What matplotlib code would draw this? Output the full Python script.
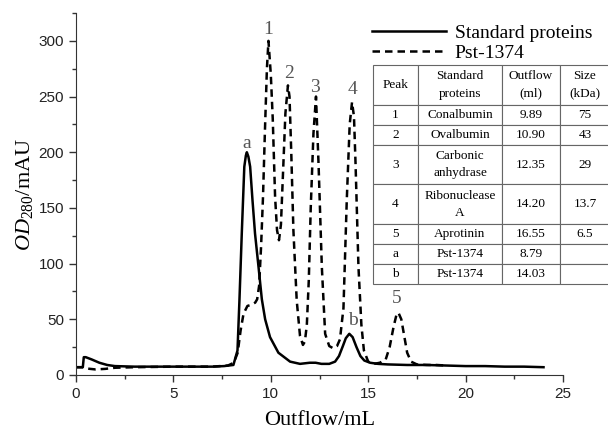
import matplotlib
matplotlib.use('Agg')
import matplotlib.pyplot as plt
from matplotlib.ticker import MultipleLocator

# solid trace (peaks a, b)
solid_x = [0, 0.35, 0.4, 0.5, 0.8, 1.2, 1.6, 2.0, 3, 4, 5, 6, 7, 7.6, 8.08, 8.29, 8.39,
           8.51, 8.64, 8.72, 8.77, 8.85, 8.94, 9.06, 9.19, 9.37, 9.54, 9.71, 9.96, 10.39,
           10.99, 11.5, 12.0, 12.3, 12.6, 13.0, 13.3, 13.5, 13.7, 13.85, 14.03, 14.2, 14.4,
           14.6, 14.8, 15.1, 15.5, 16, 17, 18, 19, 20, 21, 22, 23, 24]
solid_y = [7, 7, 16, 16, 14, 11, 9, 8, 7.5, 7.5, 7.5, 7.5, 7.5, 8, 9, 22, 67,
           127, 187, 197, 200, 196, 187, 157, 127, 97, 68, 50, 34, 20,
           12, 10, 11, 11, 10, 10, 12, 17, 26, 33, 37, 34, 25,
           17, 13, 11, 10, 9.5, 9, 9, 8.5, 8, 8, 7.5, 7.5, 7]

# dashed trace (peaks 1-5)
dash_x = [0, 0.35, 0.45, 1.0, 1.5, 2.0, 3, 5, 7, 7.8, 8.1, 8.3, 8.45, 8.6, 8.8, 9.0, 9.2,
          9.3, 9.4, 9.5, 9.6, 9.7, 9.8, 9.88, 10.0, 10.1, 10.22, 10.32, 10.42, 10.52, 10.64,
          10.75, 10.88, 10.96, 11.05, 11.16, 11.33, 11.5, 11.65, 11.75, 11.85, 11.95, 12.05,
          12.19, 12.32, 12.45, 12.62, 12.79, 13.0, 13.2, 13.4, 13.55, 13.73, 13.9, 14.05,
          14.17, 14.27, 14.35, 14.5, 14.65, 14.78, 15.0, 15.3, 15.6, 15.9, 16.1, 16.3, 16.45,
          16.55, 16.7, 16.85, 17.0, 17.2, 17.5, 18, 18.5, 19]
dash_y = [7, 7, 6, 5, 5.5, 6.5, 7, 7.5, 7.5, 8.5, 11, 20, 40, 55, 62, 63, 65,
          68, 80, 115, 160, 220, 275, 300, 270, 230, 160, 130, 121, 135, 187,
          235, 260, 250, 200, 130, 67, 35, 27, 30, 45, 85, 150,
          217, 250, 190, 97, 37, 26, 24, 26, 32, 60, 157, 225,
          245, 232, 190, 97, 45, 22, 12, 10, 11, 14, 25, 43, 54,
          56, 50, 35, 20, 12, 9.5, 9, 9, 8.5]

peak_labels = ['a', '1', '2', '3', '4', 'b', '5']
label_x = [8.77, 9.88, 10.92, 12.28, 14.21, 14.21, 16.47]
label_y = [208, 310, 271, 258, 256, 49, 69]

col_labels = ['Peak', 'Standard\nproteins', 'Outflow\n(ml)', 'Size\n(kDa)']
peaks = ['1', '2', '3', '4', '5', 'a', 'b']
proteins = ['Conalbumin', 'Ovalbumin', 'Carbonic\nanhydrase', 'Ribonuclease\nA',
            'Aprotinin', 'Pst-1374', 'Pst-1374']
outflow = ['9.89', '10.90', '12.35', '14.20', '16.55', '8.79', '14.03']
sizes = ['75', '43', '29', '13.7', '6.5', '', '']

serif = 'Liberation Serif'
plt.rcParams['font.family'] = 'Liberation Sans'
plt.rcParams['mathtext.fontset'] = 'custom'
plt.rcParams['mathtext.rm'] = serif
plt.rcParams['mathtext.it'] = serif + ':italic'

fig = plt.figure(figsize=(6.08, 4.32), dpi=100)
ax = fig.add_axes([76/608, 57/432, 487/608, 362/432])

ax.plot(solid_x, solid_y, color='black', lw=1.8, label='Standard proteins')
ax.plot(dash_x, dash_y, color='black', lw=1.8, dashes=(3, 2), label='Pst-1374')

for t, x, y in zip(peak_labels, label_x, label_y):
    ax.text(x, y, t, ha='center', va='center', fontsize=14, color='#555555', family=serif)

ax.set_xlim(0, 25)
ax.set_ylim(0, 325)
ax.xaxis.set_major_locator(MultipleLocator(5))
ax.xaxis.set_minor_locator(MultipleLocator(2.5))
ax.yaxis.set_major_locator(MultipleLocator(50))
ax.yaxis.set_minor_locator(MultipleLocator(25))
ax.spines['top'].set_visible(False)
ax.spines['right'].set_visible(False)
for s in ['left', 'bottom']:
    ax.spines[s].set_color('#333333')
ax.tick_params(which='major', length=5, width=1, color='#333333', labelsize=11, labelcolor='#222222')
ax.tick_params(which='minor', length=3, width=1, color='#333333')

ax.set_xlabel('Outflow/mL', family=serif, fontsize=16, labelpad=7)
ax.set_ylabel(r'$OD_{280}$/mAU', family=serif, fontsize=16, labelpad=3)

leg = ax.legend(loc='upper left', bbox_to_anchor=(0.572, 1.018), frameon=False,
                handlelength=3.8, handletextpad=0.45, labelspacing=0.15,
                prop={'family': serif, 'size': 14})

cells = [[p, n, o, s] for p, n, o, s in zip(peaks, proteins, outflow, sizes)]
tab = ax.table(cellText=cells, colLabels=col_labels, cellLoc='center',
               bbox=[(373-76)/487, (375-284)/362, (610-373)/487, (284-65)/362])
col_w = [45, 84, 58, 50]
row_h = [2, 1, 1, 2, 2, 1, 1, 1]
tab.auto_set_font_size(False)
for (r, c), cell in tab.get_celld().items():
    cell.set_width(col_w[c])
    cell.set_height(row_h[r])
    cell.set_edgecolor('#666666')
    cell.set_linewidth(0.8)
    txt = cell.get_text()
    txt.set_fontfamily(serif)
    txt.set_fontsize(9.5)
    txt.set_linespacing(1.6)

fig.savefig('out.png', dpi=100)
